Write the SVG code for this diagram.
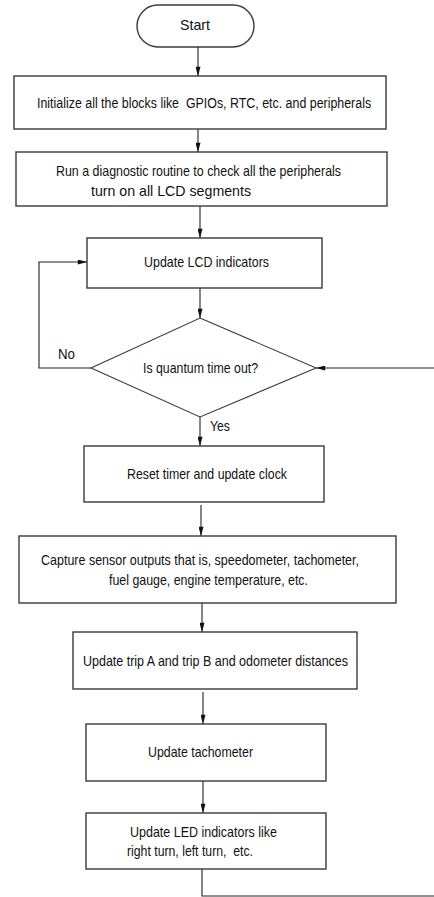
<svg xmlns="http://www.w3.org/2000/svg" width="434" height="897" viewBox="0 0 434 897">
<style>
.box{fill:#fff;stroke:#3a3a3a;stroke-width:1.4}
.t{font-family:"Liberation Sans",Arial,sans-serif;font-size:15px;fill:#111}
.c{fill:none;stroke:#222;stroke-width:1.1}
</style>
<defs>
<marker id="ah" viewBox="0 0 11 6" refX="11" refY="3" markerWidth="11" markerHeight="5" markerUnits="userSpaceOnUse" orient="auto">
<path d="M0,0 L11,3 L0,6 z" fill="#111"/>
</marker>
</defs>
<rect width="434" height="897" fill="#fff"/>
<g id="connectors">
<line class="c" x1="198" y1="47" x2="198" y2="76" marker-end="url(#ah)"/>
<line class="c" x1="198" y1="129" x2="198" y2="152" marker-end="url(#ah)"/>
<line class="c" x1="200" y1="206" x2="200" y2="238" marker-end="url(#ah)"/>
<line class="c" x1="200" y1="288" x2="200" y2="318" marker-end="url(#ah)"/>
<polyline class="c" points="91,368 39,368 39,262 87,262" marker-end="url(#ah)"/>
<line class="c" x1="200" y1="417" x2="200" y2="446" marker-end="url(#ah)"/>
<line class="c" x1="201" y1="505" x2="201" y2="536" marker-end="url(#ah)"/>
<line class="c" x1="202" y1="603" x2="202" y2="632" marker-end="url(#ah)"/>
<line class="c" x1="203" y1="692" x2="203" y2="724" marker-end="url(#ah)"/>
<line class="c" x1="203" y1="781" x2="203" y2="813" marker-end="url(#ah)"/>
<polyline class="c" points="202,869 202,896 440,896 440,368 316,368" marker-end="url(#ah)"/>
<text class="t" x="58" y="359" textLength="17" lengthAdjust="spacingAndGlyphs">No</text>
<text class="t" x="210" y="431" textLength="20" lengthAdjust="spacingAndGlyphs">Yes</text>
</g>
<g id="start">
<rect class="box" x="137" y="5" width="117" height="42" rx="21" ry="21"/>
<text class="t" x="180" y="30" textLength="30" lengthAdjust="spacingAndGlyphs">Start</text>
</g>
<g id="init">
<rect class="box" x="14" y="76" width="372" height="53"/>
<text class="t" transform="translate(37,108) scale(0.827,1)" x="0" y="0" textLength="404" lengthAdjust="spacingAndGlyphs" xml:space="preserve">Initialize all the blocks like  GPIOs, RTC, etc. and peripherals</text>
</g>
<g id="diagnostic">
<rect class="box" x="16" y="152" width="371" height="54"/>
<text class="t" x="56" y="176" textLength="285" lengthAdjust="spacingAndGlyphs">Run a diagnostic routine to check all the peripherals</text>
<text class="t" x="91" y="196" textLength="160" lengthAdjust="spacingAndGlyphs">turn on all LCD segments</text>
</g>
<g id="update-lcd">
<rect class="box" x="87" y="238" width="235" height="50"/>
<text class="t" x="144" y="267" textLength="125" lengthAdjust="spacingAndGlyphs">Update LCD indicators</text>
</g>
<g id="decision">
<polygon class="box" points="200,318 316,368 200,417 91,368" style="stroke-width:1.1"/>
<text class="t" x="143" y="373" textLength="115" lengthAdjust="spacingAndGlyphs">Is quantum time out?</text>
</g>
<g id="reset">
<rect class="box" x="84" y="446" width="240" height="56"/>
<text class="t" x="127" y="479" textLength="160" lengthAdjust="spacingAndGlyphs">Reset timer and update clock</text>
</g>
<g id="capture">
<rect class="box" x="19" y="536" width="377" height="67"/>
<text class="t" x="41" y="565" textLength="318" lengthAdjust="spacingAndGlyphs">Capture sensor outputs that is, speedometer, tachometer,</text>
<text class="t" x="109" y="585" textLength="199" lengthAdjust="spacingAndGlyphs">fuel gauge, engine temperature, etc.</text>
</g>
<g id="trip">
<rect class="box" x="73" y="632" width="284" height="57"/>
<text class="t" x="83" y="666" textLength="265" lengthAdjust="spacingAndGlyphs">Update trip A and trip B and odometer distances</text>
</g>
<g id="tachometer">
<rect class="box" x="86" y="724" width="240" height="57"/>
<text class="t" x="148" y="757" textLength="105" lengthAdjust="spacingAndGlyphs">Update tachometer</text>
</g>
<g id="led">
<rect class="box" x="86" y="813" width="240" height="56"/>
<text class="t" x="130" y="837" textLength="147" lengthAdjust="spacingAndGlyphs">Update LED indicators like</text>
<text class="t" x="127" y="856" textLength="126" lengthAdjust="spacingAndGlyphs" xml:space="preserve">right turn, left turn,  etc.</text>
</g>
</svg>
